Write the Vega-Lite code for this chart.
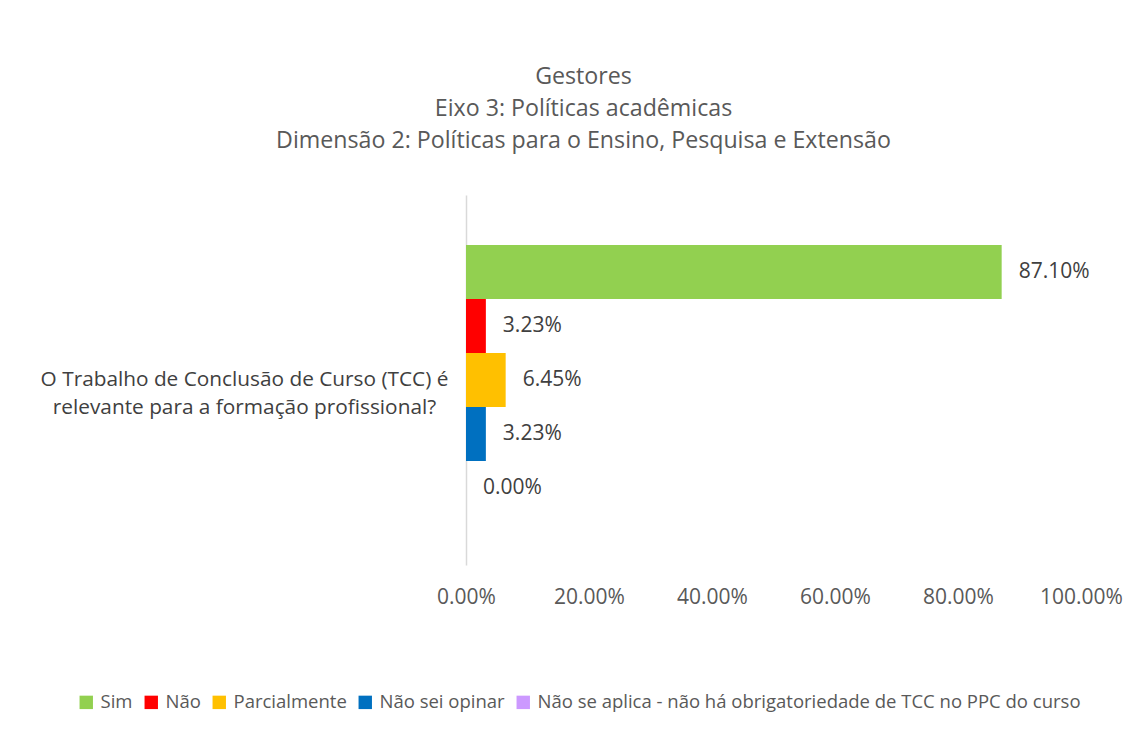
{
  "$schema": "https://vega.github.io/schema/vega-lite/v6.json",
  "autosize": {"type": "none"},
  "width": 615,
  "height": 370,
  "padding": {"left": 466, "top": 195, "right": 52, "bottom": 181},
  "background": "white",
  "config": {"view": {"stroke": null}},
  "title": {
    "text": ["Gestores", "Eixo 3: Políticas acadêmicas", "Dimensão 2: Políticas para o Ensino, Pesquisa e Extensão"],
    "font": "Open Sans",
    "fontSize": 23.2,
    "fontWeight": "normal",
    "color": "#595959",
    "lineHeight": 32,
    "anchor": "middle",
    "frame": "group",
    "dx": -190,
    "offset": 42
  },
  "data": {
    "values": [
      {"question": "O Trabalho de Conclusão de Curso (TCC) é\nrelevante para a formação profissional?", "response": "Sim", "value": 0.871},
      {"question": "O Trabalho de Conclusão de Curso (TCC) é\nrelevante para a formação profissional?", "response": "Não", "value": 0.0323},
      {"question": "O Trabalho de Conclusão de Curso (TCC) é\nrelevante para a formação profissional?", "response": "Parcialmente", "value": 0.0645},
      {"question": "O Trabalho de Conclusão de Curso (TCC) é\nrelevante para a formação profissional?", "response": "Não sei opinar", "value": 0.0323},
      {"question": "O Trabalho de Conclusão de Curso (TCC) é\nrelevante para a formação profissional?", "response": "Não se aplica - não há obrigatoriedade de TCC no PPC do curso", "value": 0.0}
    ]
  },
  "encoding": {
    "y": {
      "field": "question",
      "type": "nominal",
      "title": null,
      "scale": {"paddingInner": 0, "paddingOuter": 0.185},
      "axis": {
        "labelExpr": "split(datum.label, '\\n')",
        "labelAlign": "center",
        "labelBaseline": "middle",
        "labelPadding": 222,
        "labelLimit": 600,
        "labelFont": "Open Sans",
        "labelFontSize": 20.8,
        "labelLineHeight": 28,
        "labelColor": "#404040",
        "ticks": false,
        "domainColor": "#D9D9D9",
        "domainWidth": 1.5
      }
    },
    "yOffset": {
      "field": "response",
      "type": "nominal",
      "sort": ["Sim", "Não", "Parcialmente", "Não sei opinar", "Não se aplica - não há obrigatoriedade de TCC no PPC do curso"],
      "scale": {"paddingInner": 0, "paddingOuter": 0}
    },
    "x": {
      "field": "value",
      "type": "quantitative",
      "title": null,
      "scale": {"domain": [0, 1], "nice": false},
      "axis": {
        "values": [0, 0.2, 0.4, 0.6, 0.8, 1],
        "format": ".2%",
        "domain": false,
        "ticks": false,
        "grid": false,
        "labelFont": "Open Sans",
        "labelFontSize": 21,
        "labelColor": "#595959",
        "labelPadding": 21,
        "labelFlush": false
      }
    }
  },
  "layer": [
    {
      "mark": {"type": "bar"},
      "encoding": {
        "color": {
          "field": "response",
          "type": "nominal",
          "sort": ["Sim", "Não", "Parcialmente", "Não sei opinar", "Não se aplica - não há obrigatoriedade de TCC no PPC do curso"],
          "scale": {
            "domain": ["Sim", "Não", "Parcialmente", "Não sei opinar", "Não se aplica - não há obrigatoriedade de TCC no PPC do curso"],
            "range": ["#92D050", "#FF0000", "#FFC000", "#0070C0", "#CC99FF"]
          },
          "legend": {
            "title": null,
            "orient": "none",
            "direction": "horizontal",
            "legendX": -389,
            "legendY": 498,
            "symbolType": "square",
            "symbolSize": 180,
            "symbolStrokeWidth": 0,
            "labelFont": "Open Sans",
            "labelFontSize": 18.5,
            "labelColor": "#595959",
            "labelLimit": 700,
            "labelOffset": 5,
            "columnPadding": 9
          }
        }
      }
    },
    {
      "mark": {"type": "text", "align": "left", "baseline": "middle", "dx": 17, "font": "Open Sans", "fontSize": 21, "color": "#404040"},
      "encoding": {
        "text": {"field": "value", "type": "quantitative", "format": ".2%"}
      }
    }
  ]
}
